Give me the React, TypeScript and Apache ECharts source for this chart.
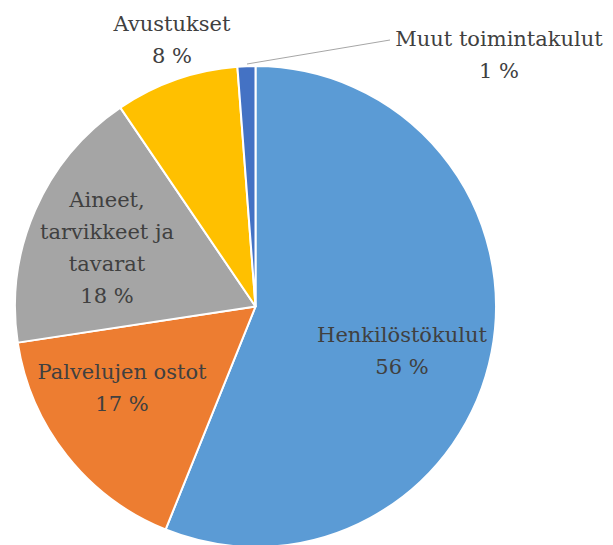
import React, { useEffect, useRef } from "react";
import * as echarts from "echarts";

const categories = [
  "Henkilöstökulut",
  "Palvelujen ostot",
  "Aineet,\ntarvikkeet ja\ntavarat",
  "Avustukset",
  "Muut toimintakulut",
];
const values = [56.1, 16.5, 17.9, 8.3, 1.2];
const colors = ["#5B9BD5", "#ED7D31", "#A5A5A5", "#FFC000", "#4472C4"];

// label layout (centre of each label block, px)
const labelPos: number[][] = [
  [402, 351],
  [122, 388],
  [107, 248],
  [172, 40],
  [499, 55],
];
const muutLine: number[][] = [
  [247, 64],
  [390, 40],
];

export default function App() {
  const ref = useRef<HTMLDivElement>(null);
  useEffect(() => {
    document.body.style.margin = "0";
    const chart = echarts.init(ref.current!, undefined, { renderer: "svg" });
    const font = "DejaVu Serif";
    chart.setOption({
      animation: false,
      backgroundColor: "#ffffff",
      series: [
        {
          type: "pie",
          center: [255.5, 306.5],
          radius: [0, 240.5],
          startAngle: 90,
          clockwise: true,
          percentPrecision: 0,
          itemStyle: { borderColor: "#ffffff", borderWidth: 2 },
          label: {
            position: "inside",
            formatter: "{b}\n{d} %",
            color: "#404040",
            fontFamily: font,
            fontSize: 21,
            lineHeight: 32,
            align: "center",
            overflow: "none",
          },
          labelLine: { show: false },
          labelLayout: (params: any) => {
            const i = params.dataIndex;
            const p = labelPos[i];
            const res: any = {
              x: p[0],
              y: p[1],
              align: "center",
              verticalAlign: "middle",
            };
            if (i === 4) res.labelLinePoints = [muutLine[0], muutLine[0], muutLine[1]];
            return res;
          },
          data: categories.map((name, i) => ({
            name,
            value: values[i],
            itemStyle: { color: colors[i] },
            label: i === 4 ? { position: "outside", overflow: "none" } : undefined,
            labelLine:
              i === 4
                ? { show: true, length: 10, length2: 10, lineStyle: { color: "#A6A6A6", width: 1 } }
                : { show: false },
          })),
        },
      ],
    });
    return () => chart.dispose();
  }, []);
  return <div ref={ref} style={{ width: 613, height: 545 }} />;
}
